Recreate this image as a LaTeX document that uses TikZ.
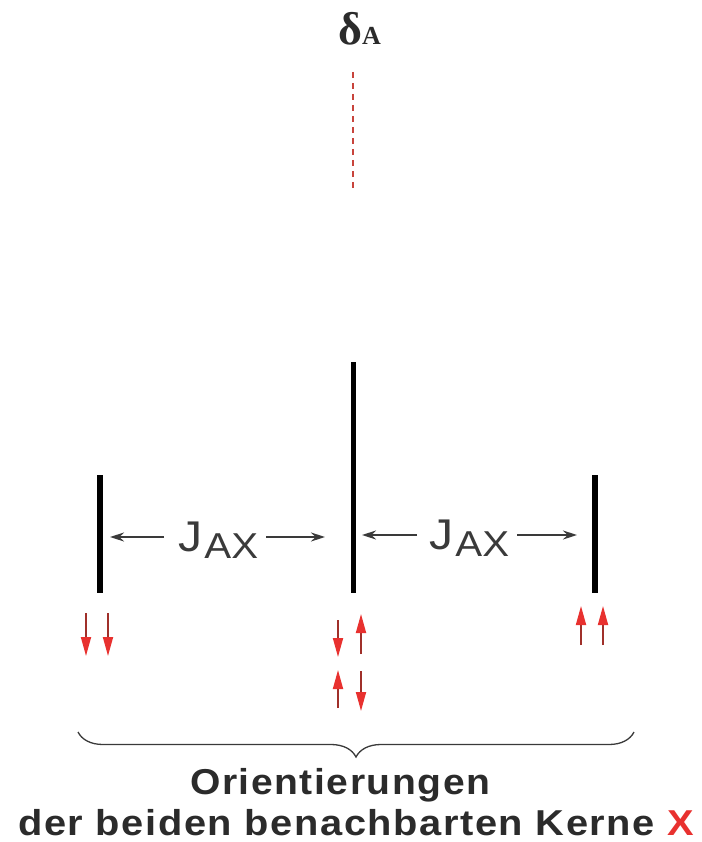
\documentclass[tikz,border=0pt]{standalone}
\usepackage{fontspec}
\usepackage{graphicx}
\setmainfont{Liberation Sans}
\newfontfamily\serifbold{Liberation Serif}[BoldFont={* Bold}]
\newfontfamily\spaced{Liberation Sans}[LetterSpace=4.0]
\usetikzlibrary{arrows.meta,decorations.pathreplacing}
\definecolor{txt}{HTML}{2B2B2B}
\definecolor{jtxt}{HTML}{3A3A3A}
\definecolor{spinred}{HTML}{E8312F}
\definecolor{shaft}{HTML}{A0302A}
\definecolor{dashred}{HTML}{C8443C}
\tikzset{
  peak/.style={line width=#1, black},
  dimarrow/.style={line width=1.6pt, jtxt, -{Stealth[length=14pt,width=9pt]}},
  spinarrow/.style={line width=1.8pt, shaft, -{Triangle[length=19pt,width=10pt,fill=spinred,color=spinred]}},
  lbl/.style={inner sep=0pt, anchor=base west},
}
\newcommand{\jax}{\resizebox{80pt}{\height}{\fontsize{43}{43}\selectfont J\kern2pt\raisebox{-7pt}{\fontsize{36}{36}\selectfont AX}}}
\begin{document}
\begin{tikzpicture}[x=1pt,y=-1pt]
\useasboundingbox (0,0) rectangle (701,842);
% delta label and dashed line
\node[lbl, text=txt] (delta) at (338,45) {\serifbold\bfseries\fontsize{46}{46}\selectfont δ\fontsize{26}{26}\selectfont A};
\coordinate (dtop) at (353,72);
\coordinate (dbot) at (353,188);
\draw[dashred, line width=1.5pt, dash pattern=on 6pt off 5pt] (dtop) -- (dbot);
% peaks
\coordinate (lt) at (100,475); \coordinate (lb) at (100,593);
\coordinate (ct) at (353,362); \coordinate (cb) at (353,593);
\coordinate (rt) at (595,475); \coordinate (rb) at (595,593);
\draw[peak=6pt] (lt) -- (lb);
\draw[peak=5pt] (ct) -- (cb);
\draw[peak=6pt] (rt) -- (rb);
% J labels
\node[lbl, text=jtxt] (jl) at (178,551) {\jax};
\node[lbl, text=jtxt] (jr) at (429,549) {\jax};
\coordinate (l1) at (110,537); \coordinate (l2) at (325,537);
\coordinate (r1) at (362,535); \coordinate (r2) at (577,535);
\draw[dimarrow] ([xshift=-14pt]jl.west |- l1) -- (l1);
\draw[dimarrow] ([xshift=8pt]jl.east |- l2) -- (l2);
\draw[dimarrow] ([xshift=-12pt]jr.west |- r1) -- (r1);
\draw[dimarrow] ([xshift=8pt]jr.east |- r2) -- (r2);
% spin arrows
\draw[spinarrow] (86,613) -- (86,656);
\draw[spinarrow] (108,613) -- (108,656);
\draw[spinarrow] (338,620) -- (338,657);
\draw[spinarrow] (361,654) -- (361,614);
\draw[spinarrow] (338,708) -- (338,670);
\draw[spinarrow] (361,671) -- (361,711);
\draw[spinarrow] (581,645) -- (581,606);
\draw[spinarrow] (603,645) -- (603,606);
% brace
\coordinate (bl) at (78,732); \coordinate (br) at (634,732);
\draw[line width=1.3pt, color=jtxt, decorate, decoration={brace, mirror, amplitude=25pt}] (bl) -- (br);
% bottom text
\node[lbl, text=txt] (t1) at (190,794) {\resizebox{300pt}{\height}{\spaced\fontsize{36}{36}\selectfont\bfseries Orientierungen}};
\node[lbl, text=txt] (t2) at (18,835) {\resizebox{676pt}{\height}{\spaced\fontsize{36}{36}\selectfont\bfseries der beiden benachbarten Kerne \textcolor{spinred}{X}}};
\end{tikzpicture}
\end{document}
